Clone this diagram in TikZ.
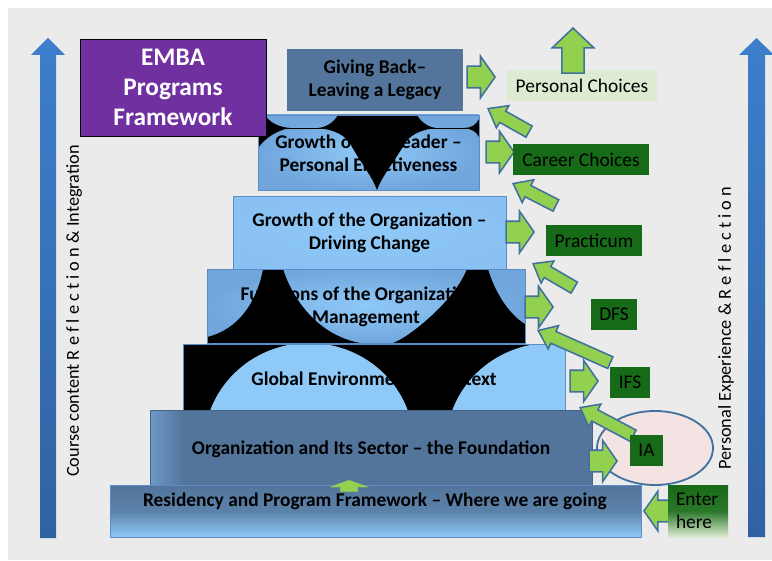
\documentclass[tikz,border=0pt]{standalone}
\usepackage{fontspec}
\setmainfont{Carlito}
\usepackage{xcolor}
\usetikzlibrary{shapes,arrows,positioning,calc}

\definecolor{paper}{HTML}{EBEBEB}
\definecolor{steel}{HTML}{53759B}
\definecolor{steellight}{HTML}{6E98CA}
\definecolor{skyblue}{HTML}{8FC9F8}
\definecolor{skydark}{HTML}{70A6DC}
\definecolor{tierline}{HTML}{5B8DC9}
\definecolor{leafgreen}{HTML}{92D050}
\definecolor{arrowedge}{HTML}{41719C}
\definecolor{darkgreen}{HTML}{176A17}
\definecolor{palegreen}{HTML}{DDEBD2}
\definecolor{embapurple}{HTML}{7030A0}
\definecolor{pinkfill}{HTML}{F3E3E3}
\definecolor{barblue}{HTML}{3D7FCC}
\definecolor{bardark}{HTML}{3062A2}

\begin{document}
\begin{tikzpicture}[
    x=0.25mm, y=-0.25mm,
    tiertext/.style={font=\bfseries\fontsize{13.8}{16.5}\selectfont, align=center, inner sep=0pt},
    sidetext/.style={font=\fontsize{13}{15}\selectfont, rotate=90, inner sep=0pt},
    choicebox/.style={font=\fontsize{13.8}{16}\selectfont, inner sep=0pt, minimum height=7.75mm},
    darkchoice/.style={choicebox, fill=darkgreen},
    embabox/.style={fill=embapurple, draw=black, line width=0.5pt, text=white, align=center,
        font=\bfseries\fontsize{18}{21.5}\selectfont, minimum width=46.5mm, minimum height=24.25mm},
    garrow/.style={single arrow, draw=arrowedge, fill=leafgreen, line width=1.1pt, inner xsep=0.3mm, anchor=tip},
    fatarrow/.style={garrow, inner ysep=2.5mm, single arrow head extend=2.5mm, single arrow tip angle=110, minimum height=7mm},
    thinarrow/.style={garrow, inner ysep=1.4mm, single arrow head extend=1.6mm, single arrow tip angle=75},
    skyshade/.style={inner color=skyblue, outer color=skydark}
]
% page
\useasboundingbox (0,0) rectangle (772,560);
\fill[white] (0,0) rectangle (772,560);
\fill[paper] (8,8) rectangle (772,560);

% side bars
\shade[top color=barblue, bottom color=bardark] (40,538) -- (40,55) -- (31,55) -- (48,38) -- (65,55) -- (56,55) -- (56,538) -- cycle;
\shade[top color=barblue, bottom color=bardark] (748,537) -- (748,55) -- (739,55) -- (756.5,38) -- (774,55) -- (765,55) -- (765,537) -- cycle;
\node[sidetext] (coursetext) at (74,311) {Course content R e f l e c t i o n \& Integration};
\node[sidetext] (personaltext) at (726,328) {Personal Experience \& R e f l e c t i o n};

% giving back
\fill[steel] (287,49) rectangle (463,111);
\node[tiertext] (givingback) at (375,80) {Giving Back–\\Leaving a Legacy};

% growth of the leader
\shade[skyshade] (258,115) rectangle (479,190);
\begin{scope}
\clip (258,115) rectangle (479,190);
\fill (258,115) -- (265,115) .. controls (270,123) and (279,127) .. (290,128) .. controls (278,130) and (266,137) .. (258,148) -- cycle;
\fill (338,115) -- (417,115) .. controls (421,122) and (428,127) .. (436,128) .. controls (418,130) and (409,136) .. (404,145) .. controls (394,162) and (382,176) .. (377,190) .. controls (372,176) and (360,162) .. (351,145) .. controls (346,136) and (336,130) .. (318,128) .. controls (327,127) and (334,122) .. (338,115) -- cycle;
\fill (479,119) .. controls (476,125) and (471,128) .. (464,128) .. controls (471,129) and (476,131) .. (479,137) -- cycle;
\draw[line width=0.7pt] (258,128) -- (479,128);
\end{scope}
\draw[tierline] (258,115) rectangle (479,190);
\node[tiertext] (growthleader) at (368.5,153) {Growth of the Leader –\\Personal Effectiveness};

% growth of the organization
\shade[inner color=skyblue, outer color=skyblue!80!skydark] (233,196) rectangle (506,269);
\draw[tierline] (233,196) rectangle (506,269);
\node[tiertext] (growthorg) at (369.5,233) {Growth of the Organization –\\Driving Change};

% functions
\shade[skyshade] (207,269) rectangle (525,343);
\begin{scope}
\clip (207,269) rectangle (525,343);
\fill (263,269) -- (283,269) .. controls (293,300) and (318,335) .. (360,343) -- (207,343) -- (207,337) .. controls (238,330) and (257,302) .. (263,269) -- cycle;
\fill (467,269) -- (488,269) .. controls (494,290) and (508,314) .. (525,324) -- (525,343) -- (393,343) .. controls (410,337) and (455,300) .. (467,269) -- cycle;
\end{scope}
\draw[tierline] (207,269) rectangle (525,343);
\node[tiertext] (functions) at (366,306.5) {Functions of the Organization –\\Management};

% global environment
\fill (183,344) rectangle (565,420);
\begin{scope}
\clip (183,344) rectangle (565,420);
\fill[skyblue] (309,445) ellipse[x radius=105, y radius=102];
\fill[skyblue] (551,445) ellipse[x radius=105, y radius=102];
\end{scope}
\draw[tierline] (183,344) rectangle (565,420);
\node[tiertext] (global) at (374,379) {Global Environment \& Context};

% organization and sector
\fill[steel] (150,410) rectangle (592,485);
\shade[left color=steellight, right color=steel] (150,410) rectangle (184,485);
\draw[steel!85!black, line width=0.4pt] (150,410) rectangle (592,485);
\node[tiertext] (orgsector) at (371,449) {Organization and Its Sector – the Foundation};

% residency
\shade[top color=steel, bottom color=skyblue, middle color=steel!85!skyblue] (110,485) rectangle (641,537);
\draw[tierline] (110,485) rectangle (641,537);
\node[tiertext] (residency) at (375,501.5) {Residency and Program Framework – Where we are going};
\node[garrow, draw=leafgreen, line width=0.3pt, inner ysep=2.1mm, single arrow head extend=2.5mm,
    single arrow tip angle=140, minimum height=2.8mm, rotate=90] (stepup) at (349,480) {};

% title
\node[embabox] (emba) at (173,87.5) {EMBA\\Programs\\Framework};

% choices side
\node[draw=arrowedge, fill=pinkfill, line width=1.3pt, ellipse, minimum width=29mm, minimum height=18.5mm] (iaring) at (655,448) {};
\node[choicebox, fill=palegreen, minimum width=37.5mm] (personal) at (582,85.5) {Personal Choices};

\node[fatarrow] (backarrow) at (496,77) {};
\node[thinarrow, minimum height=11.75mm, rotate=150.7] (leaderin) at (487,108) {};
\node[fatarrow] (leaderout) at (515,152) {};
\node[thinarrow, minimum height=12mm, rotate=152.9] (orgin) at (512,183) {};
\node[fatarrow] (orgout) at (535,232) {};
\node[thinarrow, minimum height=11.9mm, rotate=149.7] (funcin) at (532,263) {};
\node[fatarrow] (funcout) at (554,307) {};
\node[thinarrow, minimum height=19.75mm, rotate=156] (globalin) at (537,330) {};
\node[fatarrow] (globalout) at (599,381) {};
\node[thinarrow, minimum height=15mm, rotate=152] (sectorin) at (579,407) {};
\node[fatarrow] (sectorout) at (618,461) {};
\node[fatarrow, minimum height=6.75mm, single arrow head extend=2.25mm, rotate=180] (enterarrow) at (643,511) {};

\node[darkchoice, minimum width=34mm] (career) at (581,159.5) {Career Choices};
\node[darkchoice, minimum width=24mm] (practicum) at (594,240.5) {Practicum};
\node[darkchoice, minimum width=11.5mm] (dfs) at (614,314.5) {DFS};
\node[darkchoice, minimum width=10mm] (ifs) at (630,382.5) {IFS};
\node[darkchoice, minimum width=8.25mm] (ia) at (646.5,450.5) {IA};
\node[choicebox, top color=darkgreen, bottom color=palegreen, middle color=darkgreen!90!palegreen,
    minimum width=15mm, minimum height=13mm, text width=11mm, inner xsep=2mm, align=left] (enter) at (698,511) {Enter\\here};

\node[fatarrow, minimum height=11.25mm, inner ysep=2.6mm, single arrow head extend=2.4mm,
    single arrow tip angle=93, rotate=90] (uparrow) at (573,27) {};

\end{tikzpicture}
\end{document}
